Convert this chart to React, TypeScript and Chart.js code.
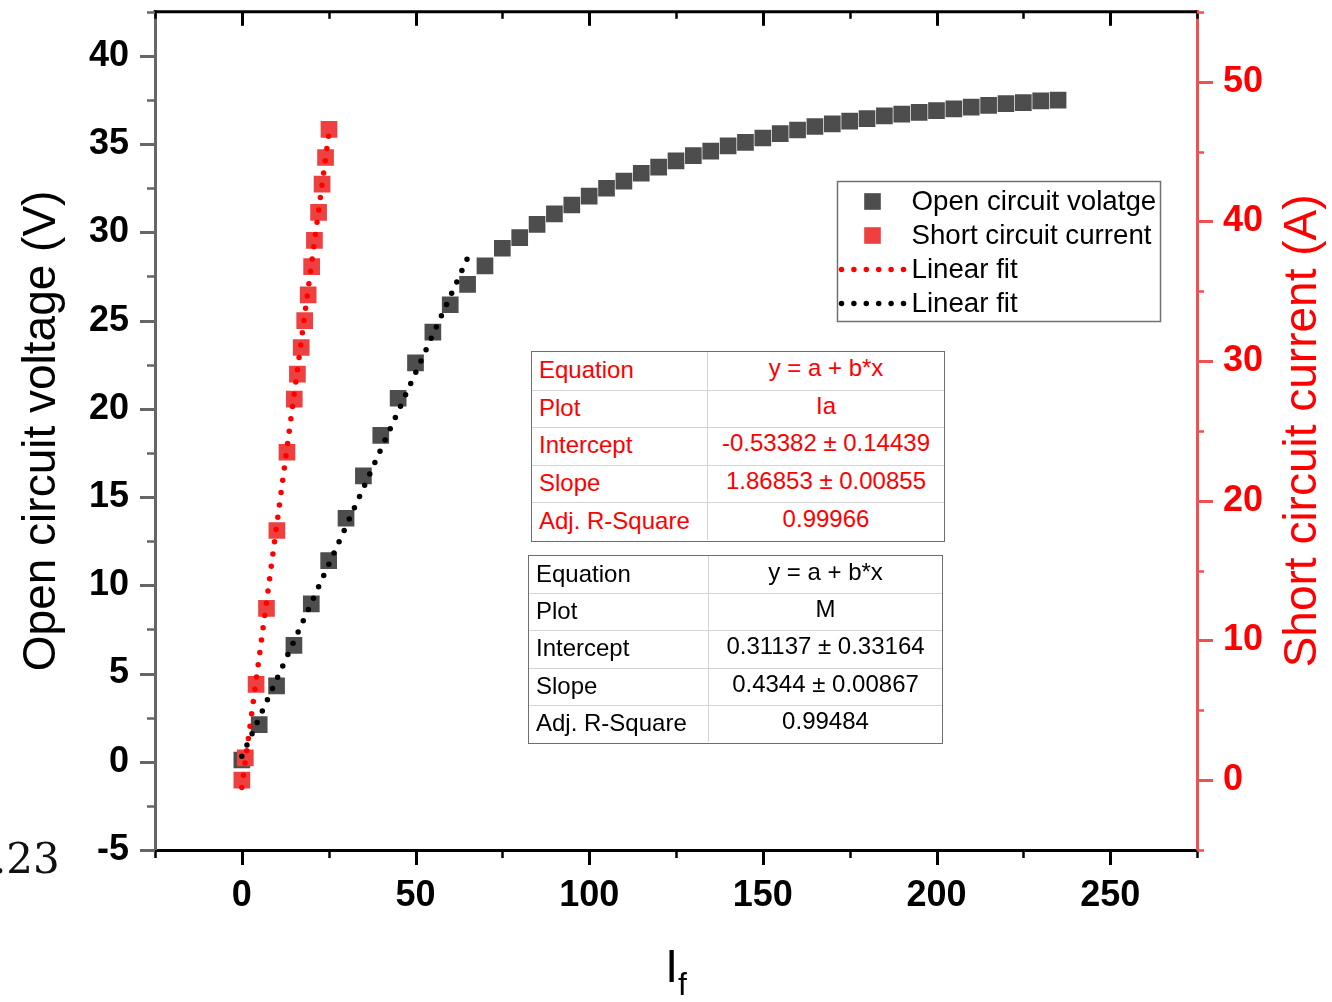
import React, { useEffect, useRef } from 'react';
import { Chart, registerables } from 'chart.js';

Chart.register(...registerables);

const FONT = '"Liberation Sans", Arial, Helvetica, sans-serif';

// ---------------- data ----------------
// Open circuit voltage (left axis, V) vs field current I_f
const VOC_IF = [0, 5, 10, 15, 20, 25, 30, 35, 40, 45, 50, 55, 60, 65, 70, 75, 80, 85, 90, 95, 100, 105, 110, 115, 120, 125, 130, 135, 140, 145, 150, 155, 160, 165, 170, 175, 180, 185, 190, 195, 200, 205, 210, 215, 220, 225, 230, 235];
const VOC = [0.1, 2.1, 4.3, 6.6, 8.95, 11.4, 13.8, 16.2, 18.5, 20.6, 22.6, 24.35, 25.9, 27.05, 28.1, 29.1, 29.7, 30.45, 31.05, 31.55, 32.05, 32.5, 32.9, 33.35, 33.7, 34.05, 34.35, 34.6, 34.9, 35.1, 35.35, 35.6, 35.8, 36.0, 36.15, 36.3, 36.45, 36.6, 36.7, 36.8, 36.9, 37.0, 37.1, 37.2, 37.3, 37.35, 37.45, 37.5];

// Short circuit current (right axis, A) vs field current I_f
const ISC_IF = [0, 1, 4.1, 7.1, 10.1, 13, 15.1, 16, 17.1, 18.1, 19.1, 20.1, 20.9, 22.1, 23.1, 24.1, 25.1];
const ISC = [0.0, 1.6, 6.86, 12.3, 17.87, 23.47, 27.28, 29.06, 30.97, 32.9, 34.74, 36.76, 38.64, 40.64, 42.67, 44.57, 46.58];

// Linear fits: [intercept, slope] and fitted x range
const ISC_FIT = [-0.53382, 1.86853];
const ISC_FIT_RANGE = [0, 25];
const VOC_FIT = [0.31137, 0.4344];
const VOC_FIT_RANGE = [0, 65];

// Fit tables
const ISC_TABLE = [
  ['Equation', 'y = a + b*x'],
  ['Plot', 'Ia'],
  ['Intercept', '-0.53382 ± 0.14439'],
  ['Slope', '1.86853 ± 0.00855'],
  ['Adj. R-Square', '0.99966'],
];
const VOC_TABLE = [
  ['Equation', 'y = a + b*x'],
  ['Plot', 'M'],
  ['Intercept', '0.31137 ± 0.33164'],
  ['Slope', '0.4344 ± 0.00867'],
  ['Adj. R-Square', '0.99484'],
];

// Ticks
const X_MAJOR = [0, 50, 100, 150, 200, 250];
const X_MINOR = [-25, 25, 75, 125, 175, 225, 275];
const Y_MAJOR = [-5, 0, 5, 10, 15, 20, 25, 30, 35, 40];
const Y_MINOR = [-2.5, 2.5, 7.5, 12.5, 17.5, 22.5, 27.5, 32.5, 37.5, 42.5];
const Y1_MAJOR = [0, 10, 20, 30, 40, 50];
const Y1_MINOR = [-5, 5, 15, 25, 35, 45, 55];

const LEFT_TITLE = 'Open circuit voltage (V)';
const RIGHT_TITLE = 'Short circuit current (A)';

// ---------------- styles ----------------
const C_VOC = '#4d4d4d';
const C_ISC = '#ef4040';
const C_RED = '#ff0000';
const C_RIGHT_AXIS = '#f05050';
const C_LEFT_AXIS = '#666666';

function seg(ctx: CanvasRenderingContext2D, x1: number, y1: number, x2: number, y2: number, color: string, w: number) {
  ctx.beginPath();
  ctx.strokeStyle = color;
  ctx.lineWidth = w;
  ctx.moveTo(x1, y1);
  ctx.lineTo(x2, y2);
  ctx.stroke();
}

const decorPlugin = {
  id: 'decor',
  afterDraw(chart: any) {
    const { ctx, chartArea: ca } = chart;
    const sx = chart.scales.x;
    const sy = chart.scales.y;
    const sr = chart.scales.y1;
    ctx.save();
    ctx.lineCap = 'butt';
    ctx.setLineDash([]);

    // top frame line
    seg(ctx, ca.left - 1.5, ca.top, ca.right, ca.top, '#000', 3);

    // x ticks (bottom outward, top inward)
    for (const v of X_MAJOR) {
      const p = Math.round(sx.getPixelForValue(v)) + 0.5;
      seg(ctx, p, ca.bottom, p, ca.bottom + 15, '#000', 3);
      seg(ctx, p, ca.top, p, ca.top + 14, '#000', 3);
    }
    for (const v of X_MINOR) {
      const p = Math.round(sx.getPixelForValue(v)) + 0.5;
      seg(ctx, p, ca.bottom, p, ca.bottom + 8, '#000', 2.5);
      seg(ctx, p, ca.top, p, ca.top + 7, '#000', 2.5);
    }
    // left ticks
    for (const v of Y_MAJOR) {
      const p = Math.round(sy.getPixelForValue(v)) + 0.5;
      seg(ctx, ca.left - 15, p, ca.left, p, C_LEFT_AXIS, 3);
    }
    for (const v of Y_MINOR) {
      const p = Math.round(sy.getPixelForValue(v)) + 0.5;
      seg(ctx, ca.left - 8, p, ca.left, p, C_LEFT_AXIS, 2.5);
    }
    // right ticks
    for (const v of Y1_MAJOR) {
      const p = Math.round(sr.getPixelForValue(v)) + 0.5;
      seg(ctx, ca.right, p, ca.right + 16, p, C_RIGHT_AXIS, 3);
    }
    for (const v of Y1_MINOR) {
      const p = Math.round(sr.getPixelForValue(v)) + 0.5;
      seg(ctx, ca.right, p, ca.right + 7, p, C_RIGHT_AXIS, 2.5);
    }

    // right axis title (reads bottom to top)
    ctx.save();
    ctx.translate(sr.right - 29, (ca.top + ca.bottom) / 2);
    ctx.rotate(-Math.PI / 2);
    ctx.font = `46px ${FONT}`;
    ctx.fillStyle = C_RED;
    ctx.textAlign = 'center';
    ctx.textBaseline = 'middle';
    ctx.fillText(RIGHT_TITLE, 0, 0);
    ctx.restore();

    // x axis title: I with subscript f
    const cx = (ca.left + ca.right) / 2;
    ctx.fillStyle = '#000';
    ctx.textBaseline = 'alphabetic';
    ctx.textAlign = 'left';
    ctx.font = `46px ${FONT}`;
    const wI = ctx.measureText('I').width;
    ctx.font = `32px ${FONT}`;
    const wf = ctx.measureText('f').width;
    const x0 = cx - (wI + wf) / 2;
    ctx.font = `46px ${FONT}`;
    ctx.fillText('I', x0, 982);
    ctx.font = `32px ${FONT}`;
    ctx.fillText('f', x0 + wI, 995);

    // legend
    const L = { x: 837.5, y: 181.5, w: 323, h: 140 };
    ctx.fillStyle = '#fff';
    ctx.fillRect(L.x, L.y, L.w, L.h);
    ctx.strokeStyle = '#707070';
    ctx.lineWidth = 1.5;
    ctx.strokeRect(L.x, L.y, L.w, L.h);
    const order = [0, 1, 2, 3];
    ctx.font = `27.7px ${FONT}`;
    ctx.textBaseline = 'middle';
    order.forEach((di, i) => {
      const ds = chart.data.datasets[di];
      const yy = L.y + 20 + i * 34;
      if (ds.showLine) {
        ctx.save();
        ctx.strokeStyle = ds.borderColor;
        ctx.lineWidth = ds.borderWidth;
        ctx.lineCap = 'round';
        ctx.setLineDash(ds.borderDash);
        ctx.beginPath();
        ctx.moveTo(L.x + 4, yy);
        ctx.lineTo(L.x + 67, yy);
        ctx.stroke();
        ctx.restore();
      } else {
        const s = 16.6;
        ctx.fillStyle = ds.pointBackgroundColor;
        ctx.fillRect(L.x + 35 - s / 2, yy - s / 2, s, s);
      }
      ctx.fillStyle = '#000';
      ctx.fillText(ds.label, L.x + 74, yy + 1);
    });

    ctx.restore();
  },
};

function zeroPad(s: any) {
  s.paddingTop = 0;
  s.paddingBottom = 0;
  s.paddingLeft = 0;
  s.paddingRight = 0;
}

function FitTable(props: { rows: string[][]; color: string; left: number; top: number; width: number; height: number; split: number }) {
  const { rows, color, left, top, width, height, split } = props;
  const bw = 1.5;
  const rowH = (height - 2 * bw) / rows.length;
  return (
    <div
      style={{
        position: 'absolute',
        left,
        top,
        width,
        height,
        boxSizing: 'border-box',
        border: `${bw}px solid #6e6e6e`,
        background: '#fff',
        color,
        fontFamily: FONT,
        fontSize: 24,
      }}
    >
      {rows.map((r, i) => (
        <div
          key={i}
          style={{
            position: 'absolute',
            left: 0,
            right: 0,
            top: i * rowH,
            height: rowH,
            boxSizing: 'border-box',
            borderTop: i ? '1.5px solid #d4d4d4' : 'none',
            display: 'flex',
          }}
        >
          <div
            style={{
              width: split,
              boxSizing: 'border-box',
              borderRight: '1.5px solid #d4d4d4',
              paddingLeft: 7,
              paddingBottom: 2,
              display: 'flex',
              alignItems: 'center',
              whiteSpace: 'nowrap',
            }}
          >
            {r[0]}
          </div>
          <div
            style={{
              flex: 1,
              display: 'flex',
              alignItems: 'center',
              justifyContent: 'center',
              paddingBottom: 6,
              whiteSpace: 'nowrap',
            }}
          >
            {r[1]}
          </div>
        </div>
      ))}
    </div>
  );
}

export default function App() {
  const canvasRef = useRef<HTMLCanvasElement | null>(null);

  useEffect(() => {
    document.documentElement.style.overflow = 'hidden';
    const canvas = canvasRef.current;
    if (!canvas) return;
    const tickFont = { family: FONT, size: 36, weight: 'bold' as const };

    const config: any = {
      type: 'scatter',
      data: {
        datasets: [
          {
            label: 'Open circuit volatge',
            data: VOC_IF.map((x, i) => ({ x, y: VOC[i] })),
            yAxisID: 'y',
            showLine: false,
            pointStyle: 'rect',
            pointRadius: 11.8,
            pointHoverRadius: 11.8,
            pointBackgroundColor: C_VOC,
            pointBorderColor: C_VOC,
            pointBorderWidth: 0,
            backgroundColor: C_VOC,
            borderColor: C_VOC,
            order: 3,
          },
          {
            label: 'Short circuit current',
            data: ISC_IF.map((x, i) => ({ x, y: ISC[i] })),
            yAxisID: 'y1',
            showLine: false,
            pointStyle: 'rect',
            pointRadius: 11.8,
            pointHoverRadius: 11.8,
            pointBackgroundColor: C_ISC,
            pointBorderColor: C_ISC,
            pointBorderWidth: 0,
            backgroundColor: C_ISC,
            borderColor: C_ISC,
            order: 2,
          },
          {
            label: 'Linear fit',
            data: ISC_FIT_RANGE.map((x) => ({ x, y: ISC_FIT[0] + ISC_FIT[1] * x })),
            yAxisID: 'y1',
            showLine: true,
            borderColor: C_RED,
            borderWidth: 5.5,
            borderDash: [0, 12.4],
            borderCapStyle: 'round',
            pointRadius: 0,
            fill: false,
            order: 0,
          },
          {
            label: 'Linear fit',
            data: VOC_FIT_RANGE.map((x) => ({ x, y: VOC_FIT[0] + VOC_FIT[1] * x })),
            yAxisID: 'y',
            showLine: true,
            borderColor: '#000000',
            borderWidth: 5.5,
            borderDash: [0, 12.4],
            borderCapStyle: 'round',
            pointRadius: 0,
            fill: false,
            order: 1,
          },
        ],
      },
      options: {
        responsive: false,
        maintainAspectRatio: false,
        animation: false,
        devicePixelRatio: 1,
        layout: { padding: { top: 11, left: 0, right: 0, bottom: 0 } },
        plugins: { legend: { display: false }, tooltip: { enabled: false } },
        events: [],
        scales: {
          x: {
            type: 'linear',
            position: 'bottom',
            min: -25,
            max: 275,
            bounds: 'data',
            afterBuildTicks: (s: any) => {
              s.ticks = X_MAJOR.map((value) => ({ value }));
            },
            afterFit: (s: any) => {
              s.height = 152;
              zeroPad(s);
            },
            grid: { drawOnChartArea: false, drawTicks: false },
            border: { display: true, color: '#000', width: 3 },
            ticks: {
              font: tickFont,
              color: '#000',
              padding: 24,
              maxRotation: 0,
              autoSkip: false,
              callback: (v: any) => String(v),
            },
            title: { display: false },
          },
          y: {
            type: 'linear',
            position: 'left',
            min: -5,
            max: 42.5,
            bounds: 'data',
            afterBuildTicks: (s: any) => {
              s.ticks = Y_MAJOR.map((value) => ({ value }));
            },
            afterFit: (s: any) => {
              s.width = 155;
              zeroPad(s);
            },
            grid: { drawOnChartArea: false, drawTicks: false },
            border: { display: true, color: C_LEFT_AXIS, width: 3 },
            ticks: {
              font: tickFont,
              color: '#000',
              padding: 26,
              autoSkip: false,
              callback: (v: any) => String(v),
            },
            title: {
              display: true,
              text: LEFT_TITLE,
              color: '#000',
              font: { family: FONT, size: 46 },
              padding: { top: 15, bottom: 0 },
            },
          },
          y1: {
            type: 'linear',
            position: 'right',
            min: -5,
            max: 55,
            bounds: 'data',
            afterBuildTicks: (s: any) => {
              s.ticks = Y1_MAJOR.map((value) => ({ value }));
            },
            afterFit: (s: any) => {
              s.width = 135;
              zeroPad(s);
            },
            grid: { drawOnChartArea: false, drawTicks: false },
            border: { display: true, color: C_RIGHT_AXIS, width: 3 },
            ticks: {
              font: tickFont,
              color: C_RED,
              padding: 26,
              autoSkip: false,
              callback: (v: any) => String(v),
            },
            title: { display: false },
          },
        },
      },
      plugins: [decorPlugin],
    };

    const chart = new Chart(canvas, config);
    return () => chart.destroy();
  }, []);

  return (
    <div style={{ position: 'absolute', left: 0, top: 0, width: 1332, height: 1002, background: '#fff', overflow: 'hidden' }}>
      <canvas ref={canvasRef} width={1332} height={1002} style={{ display: 'block', width: 1332, height: 1002 }} />
      <div
        style={{
          position: 'absolute',
          left: -7,
          top: 838,
          fontFamily: '"DejaVu Serif", "Liberation Serif", serif',
          fontSize: 42,
          lineHeight: '42px',
          color: '#111',
          whiteSpace: 'nowrap',
        }}
      >
        .23
      </div>
      <FitTable rows={ISC_TABLE} color={C_RED} left={531} top={351} width={414} height={191} split={176} />
      <FitTable rows={VOC_TABLE} color="#000" left={528} top={555} width={415} height={189} split={180} />
    </div>
  );
}
